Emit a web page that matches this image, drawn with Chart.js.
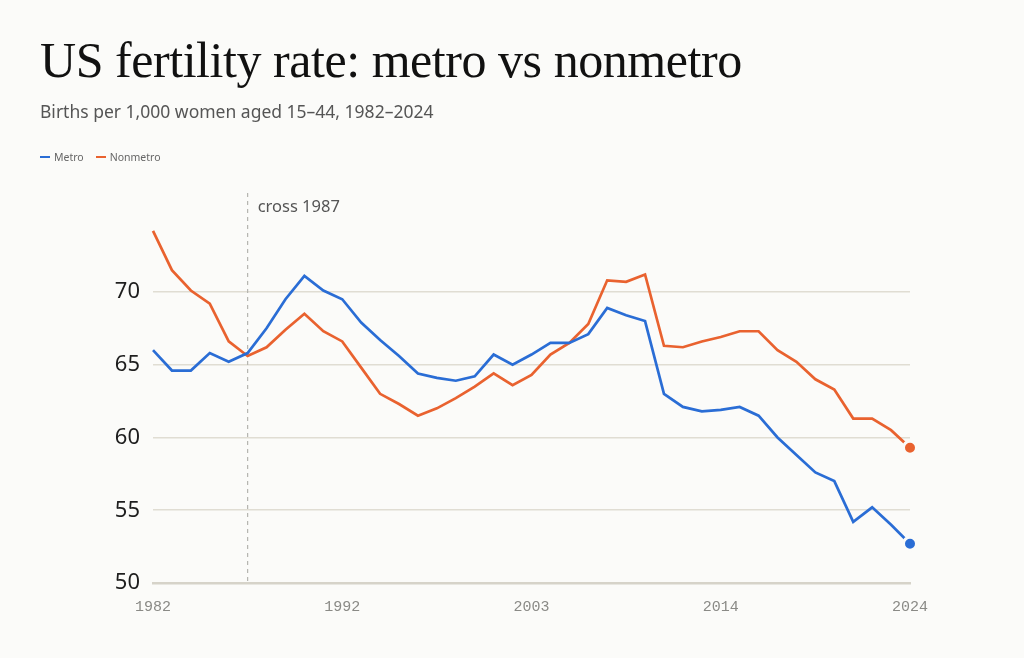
<!DOCTYPE html>
<html>
<head>
<meta charset="utf-8">
<script src="https://cdn.jsdelivr.net/npm/chart.js@4.4.1/dist/chart.umd.min.js"></script>
<style>
  html, body { margin: 0; padding: 0; background: #fbfbf9; }
  body { width: 1024px; height: 658px; position: relative; overflow: hidden; }
  #title {
    position: absolute; left: 40px; top: 35px;
    font-family: "Liberation Serif", "DejaVu Serif", serif;
    font-size: 50px; line-height: 1; letter-spacing: -0.45px; color: #111;
    white-space: nowrap;
  }
  #subtitle {
    position: absolute; left: 40px; top: 103px;
    font-family: "Noto Sans", sans-serif; font-size: 17.5px; line-height: 1;
    color: #555; white-space: nowrap;
  }
  #legend {
    position: absolute; left: 40px; top: 151px; height: 12px;
    display: flex; align-items: center;
    font-family: "Noto Sans", sans-serif; font-size: 10.5px; line-height: 12px; color: #666;
  }
  .item { display: flex; align-items: center; margin-right: 12px; }
  .swatch { width: 10px; height: 2px; margin-right: 4px; }
  #wrap { position: absolute; left: 0; top: 0; width: 1024px; height: 658px; }
</style>
</head>
<body>
<div id="wrap"><canvas id="chart"></canvas></div>
<div id="title">US fertility rate: metro vs nonmetro</div>
<div id="subtitle">Births per 1,000 women aged 15–44, 1982–2024</div>
<div id="legend"></div>
<script>
// 41 points, evenly spaced
const years = [1982, 1983, 1984, 1985, 1986, 1987, 1988, 1989, 1990, 1991,
    1992, 1993, 1994, 1995, 1996, 1997, 1999, 2000, 2001, 2002,
    2003, 2004, 2005, 2006, 2007, 2008, 2010, 2011, 2012, 2013,
    2014, 2015, 2016, 2017, 2018, 2019, 2020, 2021, 2022, 2023, 2024];
const metro = [66.0, 64.6, 64.6, 65.8, 65.2, 65.8, 67.5, 69.5, 71.1, 70.1,
    69.5, 67.9, 66.7, 65.6, 64.4, 64.1, 63.9, 64.2, 65.7, 65.0,
    65.7, 66.5, 66.5, 67.1, 68.9, 68.4, 68.0, 63.0, 62.1, 61.8,
    61.9, 62.1, 61.5, 60.0, 58.8, 57.6, 57.0, 54.2, 55.2, 54.0, 52.7];
const nonmetro = [74.2, 71.5, 70.1, 69.2, 66.6, 65.6, 66.2, 67.4, 68.5, 67.3,
    66.6, 64.8, 63.0, 62.3, 61.5, 62.0, 62.7, 63.5, 64.4, 63.6,
    64.3, 65.7, 66.5, 67.8, 70.8, 70.7, 71.2, 66.3, 66.2, 66.6,
    66.9, 67.3, 67.3, 66.0, 65.2, 64.0, 63.3, 61.3, 61.3, 60.5, 59.3];
const yTicks = [50, 55, 60, 65, 70];
const crossYear = 1987;

const seriesNames = ['Metro', 'Nonmetro'];
const seriesColors = ['#2a6dd5', '#e9622f'];
const bg = '#fbfbf9';

// legend
const legend = document.getElementById('legend');
seriesNames.forEach((name, i) => {
    const item = document.createElement('div');
    item.className = 'item';
    item.innerHTML = `<span class="swatch" style="background:${seriesColors[i]}"></span>${name}`;
    legend.appendChild(item);
});

const lastOnly = (ctx) => ctx.dataIndex === years.length - 1 ? 6.5 : 0;

const crossLine = {
    id: 'crossLine',
    beforeDatasetsDraw(chart) {
        const ctx = chart.ctx;
        const area = chart.chartArea;
        const x = chart.scales.x.getPixelForValue(years.indexOf(crossYear));
        ctx.save();
        ctx.strokeStyle = '#b5b5b0';
        ctx.lineWidth = 1.2;
        ctx.setLineDash([4, 4]);
        ctx.beginPath();
        ctx.moveTo(x, area.top);
        ctx.lineTo(x, area.bottom);
        ctx.stroke();
        ctx.setLineDash([]);
        ctx.fillStyle = '#555';
        ctx.font = '16.5px "Noto Sans", sans-serif';
        ctx.textBaseline = 'middle';
        ctx.fillText(`cross ${crossYear}`, x + 10, area.top + 14);
        ctx.restore();
    }
};

function makeDataset(label, data, color) {
    return {
        label: label,
        data: data,
        borderColor: color,
        backgroundColor: color,
        borderWidth: 2.7,
        tension: 0,
        fill: false,
        pointRadius: lastOnly,
        pointHoverRadius: lastOnly,
        pointBorderColor: bg,
        pointBorderWidth: 3,
        pointBackgroundColor: color,
        clip: false,
    };
}

const ctx = document.getElementById('chart').getContext('2d');
const myLineChart = new Chart(ctx, {
    type: 'line',
    data: {
        labels: years.map(String),
        datasets: [
            makeDataset(seriesNames[0], metro, seriesColors[0]),
            makeDataset(seriesNames[1], nonmetro, seriesColors[1]),
        ]
    },
    options: {
        responsive: true,
        maintainAspectRatio: false,
        animation: false,
        layout: { padding: { top: 193, left: 93, right: 114, bottom: 42 } },
        plugins: { legend: { display: false }, tooltip: { enabled: false } },
        scales: {
            x: {
                grid: { display: false, drawTicks: false },
                border: { display: true, color: '#d6d3c9', width: 2.5 },
                ticks: {
                    autoSkip: false,
                    maxRotation: 0,
                    padding: 15,
                    color: '#8a8a86',
                    font: { family: '"Liberation Mono", "DejaVu Sans Mono", monospace', size: 15 },
                    callback: (value, index) => index % 10 === 0 ? String(years[index]) : '',
                },
                afterFit: (scale) => { scale.height = 33; },
            },
            y: {
                min: 50,
                max: 76.8,
                afterBuildTicks: (scale) => { scale.ticks = yTicks.map(v => ({ value: v })); },
                afterFit: (scale) => { scale.width = 60; },
                grid: { color: '#e0ddd3', lineWidth: 1.5, drawTicks: false },
                border: { display: false },
                ticks: {
                    padding: 13,
                    color: '#1e1e1e',
                    font: { family: '"Noto Sans", sans-serif', size: 22 },
                },
            }
        }
    },
    plugins: [crossLine],
});
</script>
</body>
</html>
